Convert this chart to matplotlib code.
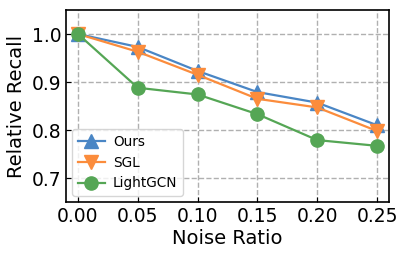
import matplotlib
matplotlib.use("Agg")
import matplotlib.pyplot as plt

noise = [0.00, 0.05, 0.10, 0.15, 0.20, 0.25]
ours = [1.000, 0.973, 0.923, 0.879, 0.857, 0.810]
sgl = [1.000, 0.963, 0.915, 0.865, 0.847, 0.798]
lightgcn = [1.000, 0.888, 0.874, 0.833, 0.779, 0.767]
xticks = [0.00, 0.05, 0.10, 0.15, 0.20, 0.25]
yticks = [0.7, 0.8, 0.9, 1.0]

fig = plt.figure(figsize=(4.07, 2.59), dpi=100)
ax = fig.add_axes([66/407, 1-202/259, 323/407, 192/259])
ax.plot(noise, ours, marker='^', color='#4a86c5', lw=1.6, ms=9.5, label='Ours')
ax.plot(noise, sgl, marker='v', color='#fb8c3c', lw=1.6, ms=9.5, label='SGL')
ax.plot(noise, lightgcn, marker='o', color='#55a655', lw=1.6, ms=9.5, label='LightGCN')
ax.set_xlim(-0.01, 0.26)
ax.set_ylim(0.65, 1.05)
ax.set_xticks(xticks)
ax.set_xticklabels([f"{t:.2f}" for t in xticks])
ax.set_yticks(yticks)
ax.set_yticklabels([f"{t:.1f}" for t in yticks])
ax.tick_params(direction='in', labelsize=13.5)
ax.grid(True, linestyle='--', color='#b0b0b0', lw=1)
ax.set_axisbelow(True)
ax.set_xlabel('Noise Ratio', fontsize=14, labelpad=2)
ax.set_ylabel('Relative Recall', fontsize=14)
ax.legend(loc='lower left', fontsize=9.8, borderaxespad=0.45, handletextpad=0.6)
for s in ax.spines.values():
    s.set_linewidth(1.2)
fig.savefig('out.png', dpi=100)
